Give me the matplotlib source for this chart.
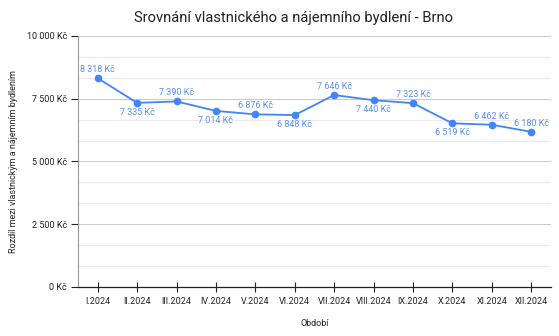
import numpy as np
import matplotlib.pyplot as plt
from matplotlib.ticker import MultipleLocator, FuncFormatter

plt.rcParams['font.family'] = ['Roboto', 'DejaVu Sans']

months = ['I.2024', 'II.2024', 'III.2024', 'IV.2024', 'V.2024', 'VI.2024',
          'VII.2024', 'VIII.2024', 'IX.2024', 'X.2024', 'XI.2024', 'XII.2024']
diff = [8318, 7335, 7390, 7014, 6876, 6848, 7646, 7440, 7323, 6519, 6462, 6180]
label_above = [True, False, True, False, True, False, True, False, True, False, True, True]

blue = '#4285F4'

def czk(v, pos=None):
    return f"{int(v):,}".replace(',', ' ') + ' Kč'

fig = plt.figure(figsize=(5.59, 3.36), dpi=100)
ax = fig.add_axes([0.1395, 0.146, 0.846, 0.747])

x = np.arange(len(months))
ax.plot(x, diff, color=blue, lw=1.3, marker='o', ms=4.5, zorder=3)

for xi, v, up in zip(x, diff, label_above):
    ax.annotate(czk(v), (xi, v), xytext=(0, 3 if up else -3.5), textcoords='offset points',
                ha='center', va='bottom' if up else 'top', fontsize=6.5, color='#5a8ff2')

ax.set_xlim(-0.5, 11.5)
ax.set_ylim(0, 10000)
ax.yaxis.set_major_locator(MultipleLocator(2500))
ax.yaxis.set_minor_locator(MultipleLocator(2500 / 3))
ax.yaxis.set_major_formatter(FuncFormatter(czk))
ax.grid(axis='y', which='major', color='#cccccc', lw=0.8)
ax.grid(axis='y', which='minor', color='#ebebeb', lw=0.8)
ax.set_axisbelow(True)

ax.set_xticks(x)
ax.set_xticklabels(months)
ax.tick_params(axis='x', direction='inout', length=7, width=0.8, labelsize=6.5, pad=4, colors='#222222')
ax.tick_params(axis='y', which='major', direction='out', length=5, width=0.8, labelsize=6.5, pad=3, colors='#222222')
ax.tick_params(axis='y', which='minor', length=0)

for s in ['top', 'right']:
    ax.spines[s].set_visible(False)
ax.spines['left'].set_color('#999999')
ax.spines['bottom'].set_color('#222222')
ax.spines['bottom'].set_linewidth(0.9)

ax.set_xlabel('Období', fontsize=6.5, labelpad=9, color='#222222')
ax.set_ylabel('Rozdíl mezi vlastnickým a nájemním bydlením', fontsize=6.5, color='#222222')
ax.yaxis.set_label_coords(18 / 559, 1 - 162 / 336, transform=fig.transFigure)
fig.text(294 / 559, 1 - 18 / 336, 'Srovnání vlastnického a nájemního bydlení - Brno',
         fontsize=10.6, ha='center', va='center', color='#222222')

fig.savefig('out.png', dpi=100)
